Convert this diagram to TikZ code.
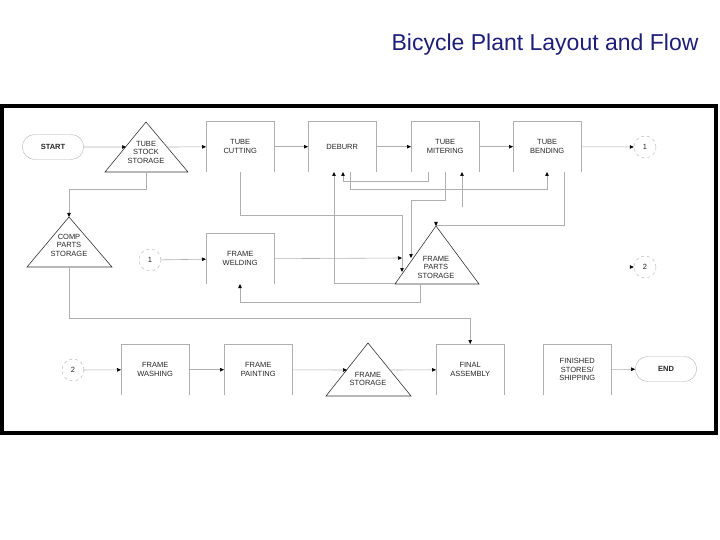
\documentclass[tikz,border=0pt]{standalone}
\usepackage{fontspec}
\setmainfont{Liberation Sans}
\usetikzlibrary{arrows.meta,shapes.geometric,shapes.misc}
\definecolor{ttl}{RGB}{30,30,120}
\definecolor{ln}{RGB}{175,175,175}
\tikzset{
 lbl/.style={font=\fontsize{7.5}{8.5}\selectfont,align=center,text=black!85},
 conn/.style={draw=ln,line width=0.6pt,-{Triangle[length=4pt,width=3.5pt,fill=black,color=black]}},
 plain/.style={draw=ln,line width=0.6pt},
 tri/.style={draw=black!80,line width=0.6pt},
 circ/.style={circle,draw=ln,dashed,minimum size=22pt,lbl},
 pill/.style={rounded rectangle,draw=ln,minimum width=68pt,minimum height=25pt,lbl,font=\fontsize{7.5}{8}\selectfont\bfseries}
}
\begin{document}
\begin{tikzpicture}[x=1pt,y=-1pt]
\useasboundingbox (0,0) rectangle (720,540);
\node[text=ttl,font=\fontsize{23}{27}\selectfont,anchor=east] (title) at (702,45) {Bicycle Plant Layout and Flow};
\draw[line width=4.5pt] (2,106) rectangle (716,433);
% boxes (open bottom)
\foreach \n/\xa/\ya/\t in {cut/206/121/{TUBE\\CUTTING}, deb/308/121/{DEBURR}, mit/411/121/{TUBE\\MITERING}, ben/513/121/{TUBE\\BENDING}, wel/206/233/{FRAME\\WELDING}, was/121/344/{FRAME\\WASHING}, pai/224/344/{FRAME\\PAINTING}, fin/436/344/{FINAL\\ASSEMBLY}, sto/543/344/{FINISHED\\STORES/\\SHIPPING}}{
 \node[lbl,minimum width=68pt,minimum height=51pt,anchor=north west] (\n) at (\xa,\ya) {\t};
 \draw[plain] (\n.south west) -- (\n.north west) -- (\n.north east) -- (\n.south east);
}
% triangles
\draw[tri] (146,122) -- (188,172) -- (105,172) -- cycle;
\node[lbl] (tss) at (146,152) {TUBE\\STOCK\\STORAGE};
\draw[tri] (69,217) -- (112,267) -- (27,267) -- cycle;
\node[lbl] (cps) at (69,245) {COMP\\PARTS\\STORAGE};
\draw[tri] (436,226) -- (479,284) -- (395,284) -- cycle;
\node[lbl] (fps) at (436,267) {FRAME\\PARTS\\STORAGE};
\draw[tri] (368,343) -- (411,396) -- (326,396) -- cycle;
\node[lbl] (fst) at (368,379) {FRAME\\STORAGE};
% terminals and connectors
\node[pill] (start) at (53,147) {START};
\node[pill] (end) at (666,369) {END};
\node[circ] (c1a) at (645,147) {1};
\node[circ] (c1b) at (150,260) {1};
\node[circ] (c2a) at (645,267) {2};
\node[circ] (c2b) at (73,370) {2};
\coordinate (tssL) at (126,147);
\coordinate (tssR) at (166,147);
\draw[conn] (start) -- (tssL);
\draw[conn] (tssR) -- (cut);
\draw[conn] (cut) -- (deb);
\draw[conn] (deb) -- (mit);
\draw[conn] (mit) -- (ben);
\draw[conn] (ben) -- (c1a);
\coordinate (c2in) at (633,267);
\draw[conn] (c2in) -- (c2a);
\draw[conn] (146,172) -- (146,189) -| (69,217);
\draw[conn] (69,267) -- (69,318) -| (fin.north);
\draw[conn] (c1b) -- (wel);
\draw[conn] (wel.east) -- (402,258);
\draw[conn] (240,172) -- (240,215) -| (402,272);
\draw[conn] (445,172) -- (445,200) -| (411,258);
\draw[conn] (395,283) -| (334,172);
\draw[conn] (428,172) -- (428,181) -| (343,172);
\draw[conn] (350,172) -- (350,189) -| (547,172);
\draw[conn] (462,207) -- (462,172);
\draw[conn] (564,172) -- (564,225) -| (436,226);
\draw[conn] (420,284) -- (420,302) -| (240,284);
\draw[conn] (c2b) -- (was);
\draw[conn] (was) -- (pai);
\draw[conn] (pai) -- (347,370);
\draw[conn] (389,370) -- (fin);
\draw[conn] (sto) -- (end);
\end{tikzpicture}
\end{document}
